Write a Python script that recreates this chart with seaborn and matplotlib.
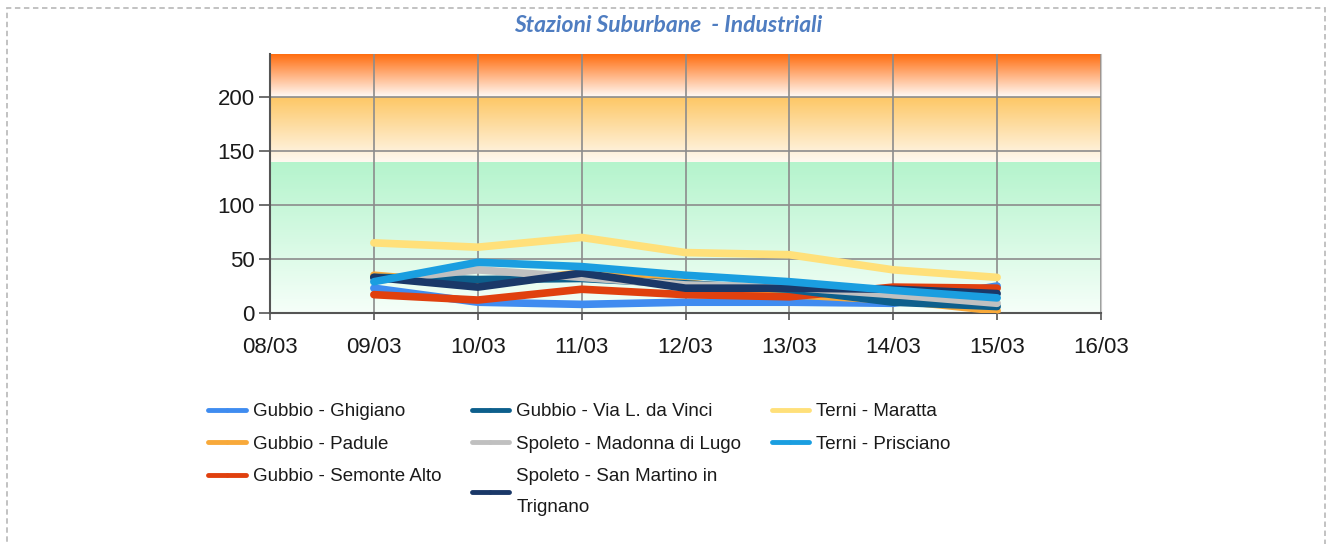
import matplotlib

matplotlib.use("Agg")
import matplotlib.pyplot as plt
import numpy as np
import pandas as pd
import seaborn as sns
from matplotlib.colors import LinearSegmentedColormap
from matplotlib.patches import Rectangle

# Chart data
dates = ["08/03", "09/03", "10/03", "11/03", "12/03", "13/03", "14/03", "15/03", "16/03"]
obs_dates = ["09/03", "10/03", "11/03", "12/03", "13/03", "14/03", "15/03"]

stations = [
    "Gubbio - Ghigiano",
    "Gubbio - Padule",
    "Gubbio - Semonte Alto",
    "Gubbio - Via L. da Vinci",
    "Spoleto - Madonna di Lugo",
    "Spoleto - San Martino in\nTrignano",
    "Terni - Maratta",
    "Terni - Prisciano",
]
ghigiano = [23, 10, 8, 10, 10, 9, 25]
padule = [35, 27, 37, 28, 17, 12, 2]
semonte_alto = [17, 12, 22, 17, 15, 24, 23]
via_da_vinci = [33, 31, 32, 27, 22, 10, 6]
madonna_di_lugo = [30, 40, 33, 26, 24, 17, 9]
san_martino = [33, 24, 37, 23, 23, 22, 18]
maratta = [65, 61, 70, 56, 54, 40, 33]
prisciano = [29, 47, 43, 35, 29, 21, 14]

series = [ghigiano, padule, semonte_alto, via_da_vinci,
          madonna_di_lugo, san_martino, maratta, prisciano]
colors = ["#3f8cf0", "#f8a93a", "#e0400e", "#0d5f8c",
          "#c0c0c0", "#1a3868", "#ffe07a", "#1a9ee0"]

# threshold bands (low, high, bottom colour, top colour)
bands = [
    (0, 140, "#f6fff9", "#b4f4cc"),
    (140, 200, "#fff9f0", "#fdc765"),
    (200, 240, "#fffaf6", "#ff6a0a"),
]

sns.set_style("white")
plt.rcParams["font.family"] = ["Liberation Sans", "DejaVu Sans"]

fig = plt.figure(figsize=(13.27, 5.44), dpi=100)
ax = fig.add_axes([270 / 1327, 1 - 313 / 544, (1101 - 270) / 1327, (313 - 54) / 544])

# Gradient background bands
x_min, x_max = 0, len(dates) - 1
for low, high, c_bottom, c_top in bands:
    cmap = LinearSegmentedColormap.from_list("band", [c_bottom, c_top])
    grad = np.linspace(0, 1, 256).reshape(-1, 1)
    ax.imshow(grad, cmap=cmap, origin="lower", aspect="auto",
              extent=(x_min, x_max, low, high), zorder=0)

# Lines
x_pos = [dates.index(d) for d in obs_dates]
for name, values, color in zip(stations, series, colors):
    df = pd.DataFrame({"x": x_pos, "value": values})
    marker = None if name == "Terni - Maratta" else "o"
    sns.lineplot(data=df, x="x", y="value", color=color, lw=5.5,
                 marker=marker, markersize=3, markeredgewidth=0,
                 label=name, ax=ax, zorder=3)

ax.set_xlim(x_min, x_max)
ax.set_ylim(0, 240)
ax.set_xticks(range(len(dates)))
ax.set_xticklabels(dates)
ax.set_yticks([0, 50, 100, 150, 200])
ax.set_xlabel("")
ax.set_ylabel("")

ax.grid(True, color="#8c8c8c", lw=1.2)
ax.set_axisbelow(True)
ax.spines["top"].set_visible(False)
ax.spines["right"].set_color("#c8c8c8")
ax.spines["left"].set_color("#555555")
ax.spines["bottom"].set_color("#555555")
ax.spines["left"].set_linewidth(1.5)
ax.spines["bottom"].set_linewidth(1.5)

ax.tick_params(axis="y", length=8, width=1.2, color="#555555", pad=3,
               labelsize=16, labelcolor="#1a1a1a", left=True)
ax.tick_params(axis="x", length=5, width=1.2, color="#555555", pad=12,
               labelsize=16, labelcolor="#1a1a1a", bottom=True)

# Legend
leg = ax.legend(
    loc="upper left",
    bbox_to_anchor=(208 / 1327, 1 - 403 / 544),
    bbox_transform=fig.transFigure,
    ncol=3,
    frameon=False,
    fontsize=13.5,
    handlelength=2.0,
    handletextpad=0.4,
    columnspacing=1.6,
    labelspacing=0.82,
    borderpad=0,
    borderaxespad=0,
)
for line in leg.get_lines():
    line.set_linewidth(3.5)
for text in leg.get_texts():
    text.set_color("#1a1a1a")
    text.set_linespacing(2.05)

# Title
fig.text(668 / 1327, 1 - 25 / 544, "Stazioni Suburbane  - Industriali",
         ha="center", va="center", fontsize=16.5, fontstyle="italic",
         fontweight="bold", color="#4f7dc1", family=["Lato", "DejaVu Sans"])

# Dashed border around the whole figure
fig.patches.append(Rectangle((7 / 1327, -0.02), (1325 - 7) / 1327, 1 - 8 / 544 + 0.02,
                             transform=fig.transFigure, fill=False,
                             edgecolor="#bdbdbd", lw=1.3, ls=(0, (3, 2))))

fig.savefig("out.png", dpi=100)
